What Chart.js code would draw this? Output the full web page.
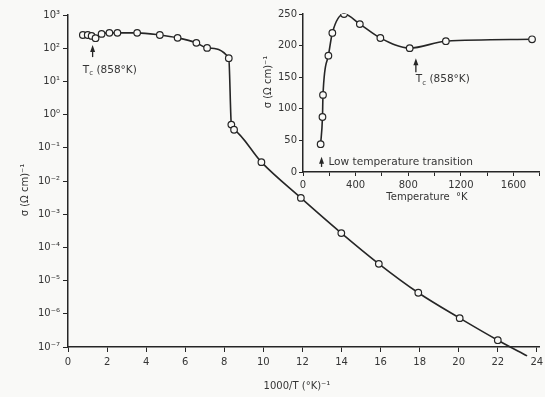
<!DOCTYPE html>
<html><head><meta charset="utf-8">
<script src="https://cdn.jsdelivr.net/npm/chart.js@4.4.0/dist/chart.umd.min.js"></script>
<style>
html,body{margin:0;padding:0;background:#f9f9f7;}
#wrap{position:relative;width:545px;height:397px;overflow:hidden;background:#f9f9f7;}
#main{position:absolute;left:0;top:0;}
#inset{position:absolute;left:255px;top:0;}
</style></head><body>
<div id="wrap"><canvas id="main" width="545" height="397"></canvas><canvas id="inset" width="290" height="205"></canvas></div>
<script>
// ---- main chart data: conductivity vs 1000/T ----
const invT  = [0.76, 1.01, 1.21, 1.41, 1.72, 2.12, 2.53, 3.54, 4.70, 5.61, 6.57, 7.12, 8.23, 8.36, 8.50, 9.9, 11.92, 13.99, 15.91, 17.93, 20.05, 22.0];
const sigma = [250, 250, 235, 200, 270, 290, 290, 290, 250, 205, 145, 102, 50, 0.5, 0.35, 0.037, 0.0031, 2.7e-4, 3.2e-5, 4.3e-6, 7.4e-7, 1.6e-7];
const tailInvT  = [23.5];
const tailSigma = [5.4e-8];
const mainXTicks = [0, 2, 4, 6, 8, 10, 12, 14, 16, 18, 20, 22, 24];
const mainYExp   = [-7, -6, -5, -4, -3, -2, -1, 0, 1, 2, 3];

// ---- inset data: conductivity vs temperature ----
const insetT     = [134, 148, 152, 193, 223, 312, 432, 588, 811, 1086, 1741];
const insetSigma = [44, 87, 122, 184, 220, 250, 234, 212, 196, 207, 210];
const insetXTicks = [0, 200, 400, 600, 800, 1000, 1200, 1400, 1600, 1800];
const insetXLabels = [0, 400, 800, 1200, 1600];
const insetYTicks = [0, 50, 100, 150, 200, 250];

const INK = '#262626';
const TXT = '#353535';
const BG = '#f9f9f7';
const FONT = 'DejaVu Sans';

const SUP = {'0':'⁰','1':'¹','2':'²','3':'³','4':'⁴','5':'⁵','6':'⁶','7':'⁷','8':'⁸','9':'⁹','-':'⁻'};
const sup = n => String(n).split('').map(c => SUP[c]).join('');

function arrow(ctx, x, yTail, yTip) {
  ctx.save();
  ctx.strokeStyle = INK; ctx.fillStyle = INK; ctx.lineWidth = 1.3;
  ctx.beginPath(); ctx.moveTo(x, yTail); ctx.lineTo(x, yTip + 4); ctx.stroke();
  ctx.beginPath(); ctx.moveTo(x, yTip); ctx.lineTo(x - 2.5, yTip + 7); ctx.lineTo(x + 2.5, yTip + 7); ctx.closePath(); ctx.fill();
  ctx.restore();
}
function tcText(ctx, x, y) {
  ctx.save();
  ctx.fillStyle = TXT; ctx.textBaseline = 'middle'; ctx.textAlign = 'left';
  ctx.font = '10.5px "' + FONT + '"';
  ctx.fillText('T', x, y);
  let w = ctx.measureText('T').width;
  ctx.font = '7px "' + FONT + '"';
  ctx.fillText('c', x + w, y + 3);
  w += ctx.measureText('c').width;
  ctx.font = '10.5px "' + FONT + '"';
  ctx.fillText(' (858°K)', x + w, y);
  ctx.restore();
}
function rotText(ctx, text, x, y) {
  ctx.save();
  ctx.translate(x, y); ctx.rotate(-Math.PI / 2);
  ctx.fillStyle = TXT; ctx.textAlign = 'center'; ctx.textBaseline = 'middle';
  ctx.font = '10px "' + FONT + '"';
  ctx.fillText(text, 0, 0);
  ctx.restore();
}
function text(ctx, t, x, y, align, size) {
  ctx.save();
  ctx.fillStyle = TXT; ctx.textAlign = align || 'center'; ctx.textBaseline = 'middle';
  ctx.font = (size || 10) + 'px "' + FONT + '"';
  ctx.fillText(t, x, y);
  ctx.restore();
}

const mainNotes = {
  draw(chart) {
    const {ctx} = chart; const xs = chart.scales.x, ys = chart.scales.y;
    rotText(ctx, 'σ (Ω cm)⁻¹', 25, 190);
    text(ctx, '1000/T (°K)⁻¹', 297, 386);
    const ax = xs.getPixelForValue(1.26);
    arrow(ctx, ax, ys.getPixelForValue(54), ys.getPixelForValue(125));
    tcText(ctx, xs.getPixelForValue(0.76), ys.getPixelForValue(22));
  }
};
const insetNotes = {
  draw(chart) {
    const {ctx} = chart; const xs = chart.scales.x, ys = chart.scales.y;
    rotText(ctx, 'σ (Ω cm)⁻¹', 13, 82);
    text(ctx, 'Temperature  °K', 172, 197);
    arrow(ctx, xs.getPixelForValue(858), ys.getPixelForValue(158), ys.getPixelForValue(180));
    tcText(ctx, xs.getPixelForValue(858), ys.getPixelForValue(146));
    arrow(ctx, xs.getPixelForValue(141), ys.getPixelForValue(8), ys.getPixelForValue(24));
    text(ctx, 'Low temperature transition', xs.getPixelForValue(193), ys.getPixelForValue(16), 'left', 10.6);
  }
};
function notesPlugin(n) { return {id: 'notes', afterDraw: c => n.draw(c)}; }

const gridOpts = {display: true, drawOnChartArea: false, drawTicks: true, tickLength: 5, color: INK, lineWidth: 1};
const borderOpts = {display: true, color: INK, width: 1.5};
const tickFont = {family: FONT, size: 10};

const circle = {pointRadius: 3.3, pointBackgroundColor: BG, pointBorderColor: INK, pointBorderWidth: 1.2, showLine: false, order: 0};

new Chart(document.getElementById('main'), {
  type: 'scatter',
  data: {datasets: [
    Object.assign({data: invT.map((x, i) => ({x, y: sigma[i]}))}, circle),
    {data: invT.concat(tailInvT).map((x, i) => ({x, y: sigma.concat(tailSigma)[i]})),
     showLine: true, pointRadius: 0, borderColor: INK, borderWidth: 1.6,
     cubicInterpolationMode: 'monotone', clip: false, order: 1}
  ]},
  options: {
    responsive: false, animation: false, devicePixelRatio: 1,
    layout: {padding: {top: 15, right: 0, left: 0, bottom: 0}},
    plugins: {legend: {display: false}, tooltip: {enabled: false}},
    scales: {
      x: {type: 'linear', min: 0, max: 24.15,
          afterBuildTicks: s => { s.ticks = mainXTicks.map(v => ({value: v})); },
          afterFit: s => { s.height = 50; s.paddingRight = 0; s.paddingLeft = 0; },
          grid: gridOpts, border: borderOpts,
          ticks: {color: TXT, font: tickFont, padding: 4, maxRotation: 0, autoSkip: false}},
      y: {type: 'logarithmic', min: 1e-7, max: 1e3,
          afterBuildTicks: s => { s.ticks = mainYExp.map(e => ({value: Math.pow(10, e)})); },
          afterFit: s => { s.width = 68; s.paddingTop = 0; s.paddingBottom = 0; },
          grid: gridOpts, border: borderOpts,
          ticks: {color: TXT, font: tickFont, padding: 3, autoSkip: false,
                  callback: v => '10' + sup(Math.round(Math.log10(v)))}}
    }
  },
  plugins: [notesPlugin(mainNotes)]
});

new Chart(document.getElementById('inset'), {
  type: 'scatter',
  data: {datasets: [
    Object.assign({data: insetT.map((x, i) => ({x, y: insetSigma[i]}))}, circle),
    {data: insetT.map((x, i) => ({x, y: insetSigma[i]})),
     showLine: true, pointRadius: 0, borderColor: INK, borderWidth: 1.6,
     cubicInterpolationMode: 'monotone', clip: false, order: 1}
  ]},
  options: {
    responsive: false, animation: false, devicePixelRatio: 1,
    layout: {padding: {top: 14, right: 0, left: 0, bottom: 0}},
    plugins: {legend: {display: false}, tooltip: {enabled: false}},
    scales: {
      x: {type: 'linear', min: 0, max: 1800,
          afterBuildTicks: s => { s.ticks = insetXTicks.map(v => ({value: v})); },
          afterFit: s => { s.height = 33; s.paddingRight = 0; s.paddingLeft = 0; },
          grid: Object.assign({}, gridOpts, {tickLength: 4}), border: borderOpts,
          ticks: {color: TXT, font: tickFont, padding: 3, maxRotation: 0, autoSkip: false,
                  callback: v => insetXLabels.includes(v) ? String(v) : ''}},
      y: {type: 'linear', min: 0, max: 250,
          afterBuildTicks: s => { s.ticks = insetYTicks.map(v => ({value: v})); },
          afterFit: s => { s.width = 48; s.paddingTop = 0; s.paddingBottom = 0; },
          grid: Object.assign({}, gridOpts, {tickLength: 4}), border: borderOpts,
          ticks: {color: TXT, font: tickFont, padding: 2, autoSkip: false}}
    }
  },
  plugins: [notesPlugin(insetNotes)]
});
</script>
</body></html>
